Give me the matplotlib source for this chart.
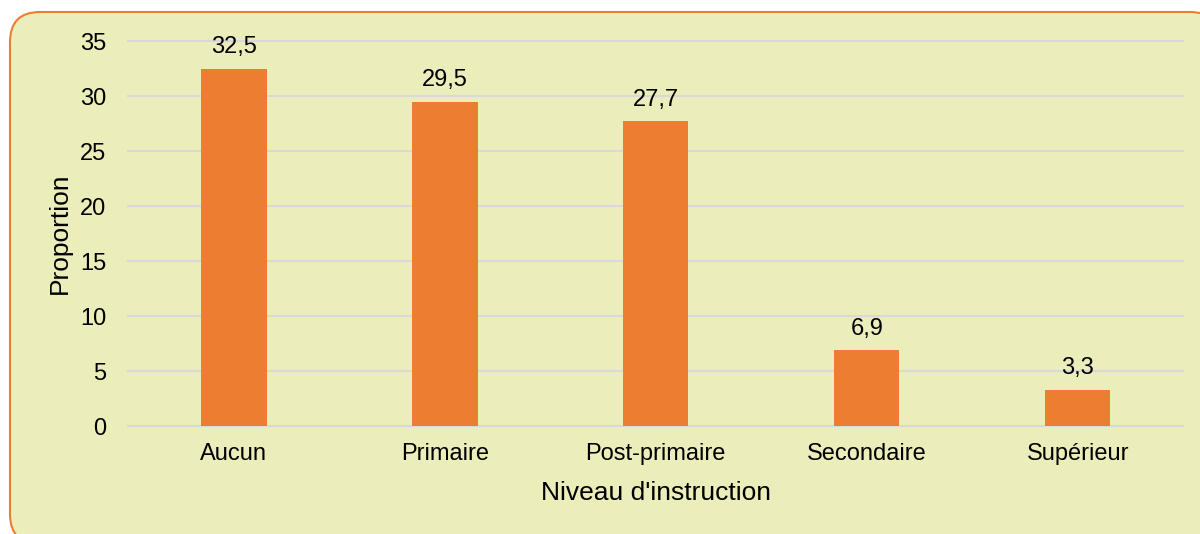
import matplotlib
matplotlib.use("Agg")
import matplotlib.pyplot as plt
from matplotlib.patches import FancyBboxPatch
from matplotlib.transforms import IdentityTransform
import numpy as np

categories = ["Aucun", "Primaire", "Post-primaire", "Secondaire", "Supérieur"]
values = [32.5, 29.5, 27.7, 6.9, 3.3]
value_labels = ["32,5", "29,5", "27,7", "6,9", "3,3"]
yticks = [0, 5, 10, 15, 20, 25, 30, 35]

plt.rcParams["font.family"] = ["Liberation Sans", "DejaVu Sans"]

fig = plt.figure(figsize=(12, 5.34), dpi=100)
fig.patch.set_facecolor("white")

# rounded panel behind the chart (pixel coords)
box = FancyBboxPatch((10, -10), 1210, 532,
                     boxstyle="round,pad=0,rounding_size=30",
                     facecolor="#EBEDBA", edgecolor="#ED7D31", linewidth=1.5,
                     transform=IdentityTransform(), zorder=-5)
fig.patches.append(box)

ax = fig.add_axes([0.107, 0.2022, 0.879, 0.7208])
ax.set_zorder(2)
ax.set_facecolor("none")

x = np.arange(len(categories))
ax.bar(x, values, width=0.31, color="#ED7D31", zorder=3)
for xi, v, lab in zip(x, values, value_labels):
    ax.annotate(lab, (xi, v), xytext=(0, 11), textcoords="offset points",
                ha="center", va="baseline", fontsize=17, color="black")

ax.set_xlim(-0.5, len(categories) - 0.5)
ax.set_ylim(0, 35)
ax.set_yticks(yticks)
ax.set_xticks(x)
ax.set_xticklabels(categories)
ax.tick_params(axis="both", length=0, labelsize=17, colors="black")
ax.tick_params(axis="x", pad=12)
ax.tick_params(axis="y", pad=16)
ax.grid(axis="y", color="#D9D9D9", linewidth=1.5, zorder=0)
for gl in ax.get_ygridlines():
    gl.set_clip_on(False)
for s in ax.spines.values():
    s.set_visible(False)

ax.set_xlabel("Niveau d'instruction", fontsize=19, labelpad=12)
ax.set_ylabel("Proportion", fontsize=19, labelpad=6)

fig.savefig("out.png", dpi=100)
